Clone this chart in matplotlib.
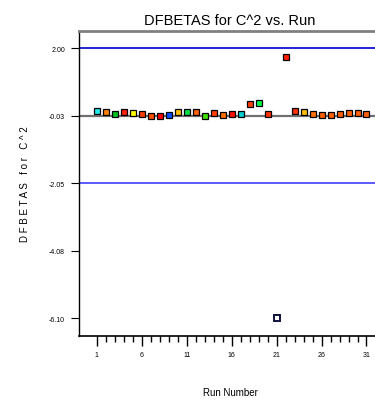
import matplotlib.pyplot as plt

plt.rcParams['font.family'] = ['Liberation Sans', 'DejaVu Sans']

runs = list(range(1, 32))
dfbetas = [0.12, 0.07, 0.03, 0.07, 0.06, 0.01, -0.05, -0.05, -0.01, 0.09,
           0.09, 0.09, -0.05, 0.04, -0.02, 0.01, 0.02, 0.31, 0.34, 0.01,
           -6.09, 1.72, 0.12, 0.07, 0.03, 0.00, -0.01, 0.02, 0.04, 0.04, 0.01]
colors = ['#20e8e8', '#ff8000', '#00c020', '#ff2000', '#ffff00', '#ff4000',
          '#ff5000', '#ff0000', '#0050ff', '#ffc000', '#00e040', '#ff6000',
          '#40e000', '#ff4000', '#ff7000', '#ff1000', '#00d0d0', '#ff4000',
          '#00ff40', '#ff3000', '#ffffff', '#ff2000', '#ff3000', '#ffc000',
          '#ff7000', '#ff6000', '#ff6000', '#ff6000', '#ff6000', '#ff6000', '#ff6000']
yticks = [2.00, -0.03, -2.05, -4.08, -6.10]
upper_limit = 2.00
lower_limit = -2.05

fig = plt.figure(figsize=(3.75, 4.02), dpi=100)
ax = fig.add_axes([0.2107, 0.1617, 0.805, 0.7587])

ax.axhline(upper_limit, color='#0000cc', lw=1.2, zorder=1)
ax.axhline(lower_limit, color='#4040ff', lw=1.2, zorder=1)
ax.axhline(-0.03, color='#707070', lw=1.6, zorder=1)

for r, v, c in zip(runs, dfbetas, colors):
    white = c == '#ffffff'
    ax.plot(r, v, 's', ms=5, mfc=c, mec='#101040' if white else 'black',
            mew=1.4 if white else 0.9, zorder=3)

ax.set_xlim(-0.97, 32.6)
ax.set_ylim(-6.63, 2.51)
ax.set_yticks(yticks)
ax.set_yticklabels(['%.2f' % t for t in yticks], fontsize=5)
ax.set_xticks(range(1, 32, 5))
ax.set_xticks(range(1, 32), minor=True)
ax.tick_params(axis='x', which='major', direction='out', length=7, width=1, labelsize=5, pad=4)
ax.tick_params(axis='x', which='minor', direction='out', length=4, width=1)
ax.tick_params(axis='y', direction='out', length=6, width=0.8, pad=4)

ax.spines['right'].set_visible(False)
ax.spines['top'].set_color('#808080')
ax.spines['top'].set_linewidth(2)
ax.spines['left'].set_linewidth(1)
ax.spines['bottom'].set_linewidth(1.2)

ax.set_title('DFBETAS for C^2 vs. Run', fontsize=10.5, pad=5)
ax.set_xlabel('Run Number', fontsize=7, labelpad=21)
ax.set_ylabel('D F B E T A S   f o r   C ^ 2', fontsize=7, labelpad=14)

fig.savefig('out.png', dpi=100)
